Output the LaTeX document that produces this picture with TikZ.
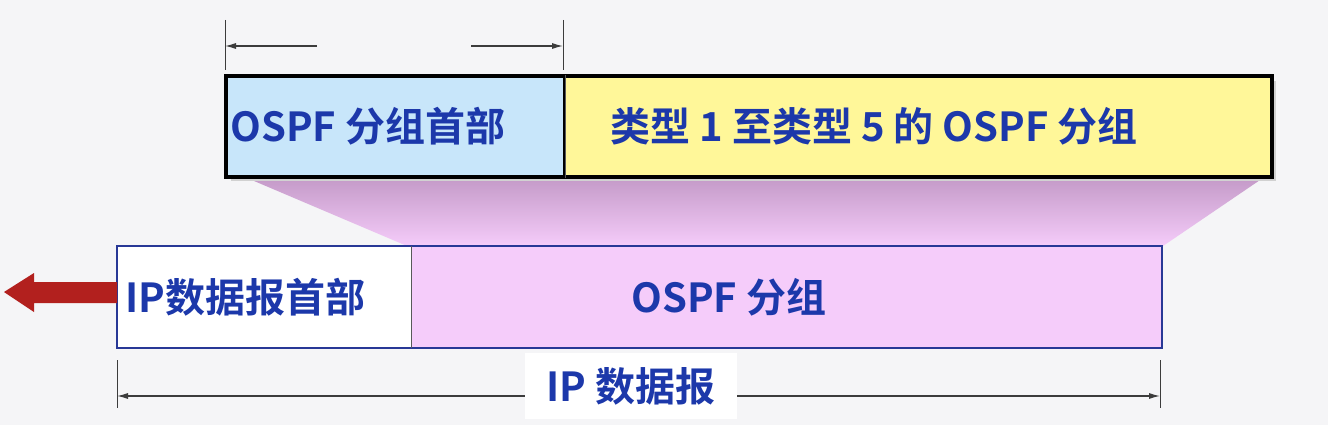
\documentclass[tikz,border=0pt]{standalone}
\usepackage{fontspec}
\setmainfont{Noto Sans CJK SC}[BoldFont={* Bold}]
\usetikzlibrary{arrows.meta,calc}
\definecolor{txtblue}{RGB}{28,56,170}
\definecolor{hdrblue}{RGB}{200,230,250}
\definecolor{bodyyel}{RGB}{255,247,153}
\definecolor{ospfpink}{RGB}{245,204,250}
\definecolor{edgeblue}{RGB}{40,56,150}
\definecolor{arrred}{RGB}{178,32,30}
\definecolor{bggray}{RGB}{245,245,247}
\definecolor{trtop}{RGB}{196,154,200}
\definecolor{dimgray}{RGB}{60,60,60}
\tikzset{
  x=1pt,y=1pt,
  lbl/.style={font=\fontsize{40}{44}\selectfont\bfseries, text=txtblue},
  topbox/.style={draw=black, line width=2.6pt, inner sep=0pt, anchor=north west},
  botbox/.style={draw=edgeblue, line width=1.8pt, inner sep=0pt, anchor=north west},
  dimline/.style={draw=dimgray, line width=1.1pt},
  dimtick/.style={draw=dimgray, line width=1pt},
  dimarrow/.style={dimline, -{Latex[length=11pt,width=6pt]}},
}
\begin{document}
\begin{tikzpicture}
\useasboundingbox (0,0) rectangle (1328,-425);
\fill[bggray] (0,0) rectangle (1328,-425);

% trapezoid (projection)
\shade[top color=trtop, bottom color=ospfpink]
  (247,-178) -- (1263,-178) -- (1163,-246) -- (407,-246) -- cycle;

% top box shadow
\fill[black!18] (231,-81) rectangle (1276,-181);

% top box
\node[topbox, fill=hdrblue, minimum width=338pt, minimum height=100pt] (hdr) at (225,-75) {};
\node[topbox, fill=bodyyel, minimum width=707pt, minimum height=100pt] (body) at (563,-75) {};
\draw[black, line width=2.6pt] (hdr.north west) rectangle (body.south east);
\draw[gray!70!black, line width=0.8pt] (hdr.north east) -- (hdr.south east);
\node[lbl, anchor=west] (hdrtxt) at (227,-126) {OSPF 分组首部};
\node[lbl] (bodytxt) at (874,-126) {类型 1 至类型 5 的 OSPF 分组};

% bottom box
\node[botbox, draw=none, fill=white, minimum width=293pt, minimum height=100pt] (iphdr) at (117,-246) {};
\node[botbox, draw=none, fill=ospfpink, minimum width=750pt, minimum height=100pt] (ospf) at (410,-246) {};
\draw[edgeblue, line width=1.8pt] (iphdr.north west) rectangle (ospf.south east);
\draw[gray!70!black, line width=0.8pt] (iphdr.north east) -- (iphdr.south east);
\node[lbl, anchor=west] (iptxt) at (122,-297) {IP数据报首部};
\node[lbl] (ospftxt) at (729,-297) {OSPF 分组};

% red arrow
\coordinate (redtip) at (4,-292);
\fill[arrred] (iphdr.west |- 0,-282) -- (34,-282) -- (34,-273) -- (redtip) -- (34,-312) -- (34,-303) -- (iphdr.west |- 0,-303) -- cycle;

% top dimension
\coordinate (t1a) at (225,-20); \coordinate (t1b) at (225,-70);
\coordinate (t2a) at (563,-20); \coordinate (t2b) at (563,-70);
\draw[dimtick] (t1a) -- (t1b);
\draw[dimtick] (t2a) -- (t2b);
\coordinate (al) at (317,-46); \coordinate (ar) at (471,-46);
\draw[dimarrow] (al) -- (225,-46);
\draw[dimarrow] (ar) -- (563,-46);

% bottom dimension
\coordinate (b1a) at (117,-360); \coordinate (b1b) at (117,-408);
\coordinate (b2a) at (1160,-360); \coordinate (b2b) at (1160,-408);
\draw[dimtick] (b1a) -- (b1b);
\draw[dimtick] (b2a) -- (b2b);
\draw[dimline, {Latex[length=11pt,width=6pt]}-{Latex[length=11pt,width=6pt]}] (117,-396) -- (1160,-396);
\node[lbl, fill=white, minimum width=212pt, minimum height=66pt, inner sep=0pt] (iplbl) at (631,-386) {IP 数据报};
\end{tikzpicture}
\end{document}
